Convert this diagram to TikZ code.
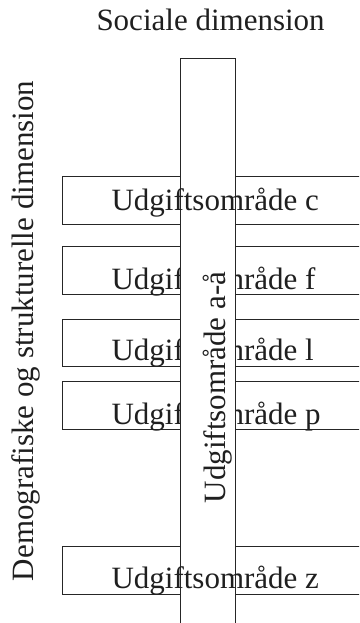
\documentclass[tikz,border=0pt]{standalone}
\usepackage{fontspec}
\setmainfont{Liberation Serif}
\begin{document}
\begin{tikzpicture}[x=1pt,y=-1pt,
  every node/.style={inner sep=0pt, outer sep=0pt},
  area/.style={draw=black!85, line width=1pt, minimum width=320pt, minimum height=47.6pt, anchor=north west},
  column/.style={draw=black!85, fill=white, line width=1pt, minimum width=55pt, minimum height=600pt, anchor=north west},
  lbl/.style={font=\fontsize{31}{37}\selectfont, text=black!88},
]
\useasboundingbox (0,0) rectangle (359,623);
\clip (0,0) rectangle (359,623);

% axis titles
\node[lbl, anchor=base west] (soc) at (96.5,31) {Sociale dimension};
\node[lbl, anchor=base west, rotate=90] (dem) at (33.3,581) {Demografiske og strukturelle dimension};

% horizontal spending areas
\node[area] (bc) at (62.3,176.7) {};
\node[area] (bf) at (62.3,246.7) {};
\node[area] (bl) at (62.3,319.0) {};
\node[area] (bp) at (62.3,381.5) {};
\node[area] (bz) at (62.3,546.7) {};

% labels partly hidden by the column
\node[lbl, anchor=base west] (tf) at (111.5,289.3) {Udgiftsområde f};
\node[lbl, anchor=base west] (tl) at (111.5,360.7) {Udgiftsområde l};
\node[lbl, anchor=base west] (tp) at (111.5,424.3) {Udgiftsområde p};

% vertical column across all areas
\node[column] (col) at (180.5,58.3) {};
\node[lbl, anchor=base west, rotate=90] (tcol) at (225,503.3) {Udgiftsområde a-å};

% labels drawn over the column
\node[lbl, anchor=base west] (tc) at (111.5,210) {Udgiftsområde c};
\node[lbl, anchor=base west] (tz) at (111.5,588.3) {Udgiftsområde z};
\end{tikzpicture}
\end{document}
